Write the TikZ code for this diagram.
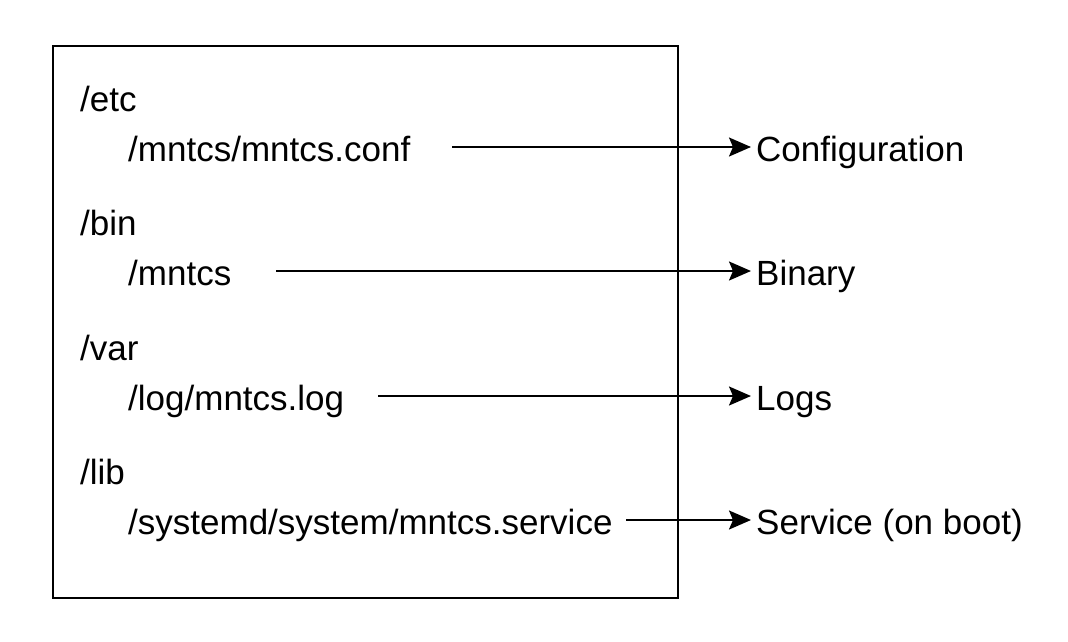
\documentclass[tikz,border=0pt]{standalone}
\usepackage{fontspec}
\setmainfont{Liberation Sans}
\usetikzlibrary{arrows.meta}
\begin{document}
\begin{tikzpicture}[x=1pt,y=-1pt,
  txt/.style={anchor=base west,inner sep=0pt,font=\fontsize{35}{40}\selectfont},
  conn/.style={line width=2pt,shorten >=5pt,-{Stealth[length=22pt,width=19pt,inset=4pt]}},
  frame/.style={draw,line width=2pt}]
\useasboundingbox (0,0) rectangle (1068,641);
\node[frame,minimum width=625pt,minimum height=552pt,anchor=north west,inner sep=0pt] (box) at (52,45) {};
\node[txt] (etc) at (80,111) {/etc};
\node[txt] (conf) at (128,161) {/mntcs/mntcs.conf};
\node[txt] (bin) at (80,235) {/bin};
\node[txt] (mntcs) at (128,285) {/mntcs};
\node[txt] (var) at (80,360) {/var};
\node[txt] (log) at (128,410) {/log/mntcs.log};
\node[txt] (lib) at (80,484) {/lib};
\node[txt] (svc) at (128,534) {/systemd/system/mntcs.service};
\node[txt] (lconf) at (756,161) {Configuration};
\node[txt] (lbin) at (756,285) {Binary};
\node[txt] (llog) at (756,410) {Logs};
\node[txt] (lsvc) at (756,534) {Service (on boot)};
\coordinate (s1) at (452,147);
\coordinate (s2) at (276,271);
\coordinate (s3) at (378,396);
\coordinate (s4) at (626,520);
\draw[conn] (s1) -- (lconf.west |- s1);
\draw[conn] (s2) -- (lbin.west |- s2);
\draw[conn] (s3) -- (llog.west |- s3);
\draw[conn] (s4) -- (lsvc.west |- s4);
\end{tikzpicture}
\end{document}
